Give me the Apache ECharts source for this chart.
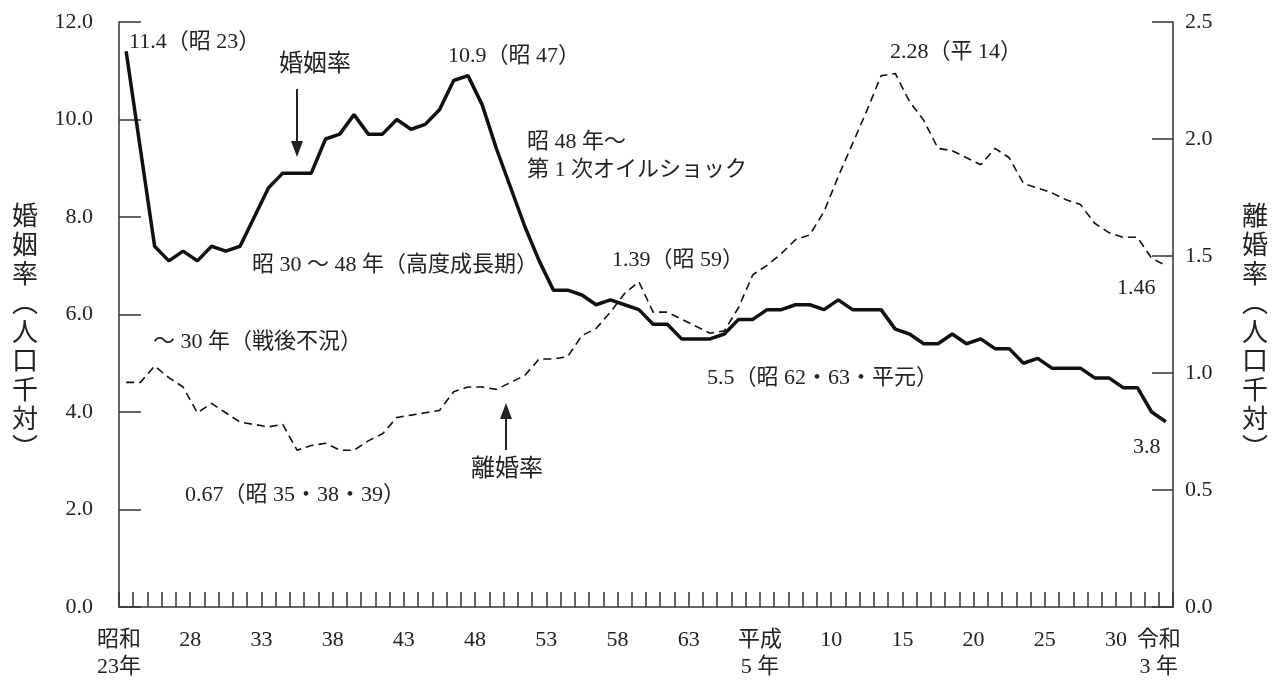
<!DOCTYPE html>
<html>
<head>
<meta charset="utf-8">
<script src="https://cdn.jsdelivr.net/npm/echarts@6/dist/echarts.min.js"></script>
<style>
  html, body { margin: 0; padding: 0; background: #fff; }
  #chart { width: 1277px; height: 687px; }
</style>
</head>
<body>
<div id="chart"></div>
<script>
// 年次（昭和23年〜令和3年）
const years = [
  1948, 1949, 1950, 1951, 1952, 1953, 1954, 1955, 1956, 1957,
  1958, 1959, 1960, 1961, 1962, 1963, 1964, 1965, 1966, 1967,
  1968, 1969, 1970, 1971, 1972, 1973, 1974, 1975, 1976, 1977,
  1978, 1979, 1980, 1981, 1982, 1983, 1984, 1985, 1986, 1987,
  1988, 1989, 1990, 1991, 1992, 1993, 1994, 1995, 1996, 1997,
  1998, 1999, 2000, 2001, 2002, 2003, 2004, 2005, 2006, 2007,
  2008, 2009, 2010, 2011, 2012, 2013, 2014, 2015, 2016, 2017,
  2018, 2019, 2020, 2021
];

// 婚姻率（人口千対）
const marriageRate = [
  11.4, 9.4, 7.4, 7.1, 7.3, 7.1, 7.4, 7.3, 7.4, 8.0,
  8.6, 8.9, 8.9, 8.9, 9.6, 9.7, 10.1, 9.7, 9.7, 10.0,
  9.8, 9.9, 10.2, 10.8, 10.9, 10.3, 9.4, 8.6, 7.8, 7.1,
  6.5, 6.5, 6.4, 6.2, 6.3, 6.2, 6.1, 5.8, 5.8, 5.5,
  5.5, 5.5, 5.6, 5.9, 5.9, 6.1, 6.1, 6.2, 6.2, 6.1,
  6.3, 6.1, 6.1, 6.1, 5.7, 5.6, 5.4, 5.4, 5.6, 5.4,
  5.5, 5.3, 5.3, 5.0, 5.1, 4.9, 4.9, 4.9, 4.7, 4.7,
  4.5, 4.5, 4.0, 3.8
];

// 離婚率（人口千対）
const divorceRate = [
  0.96, 0.96, 1.03, 0.98, 0.94, 0.83, 0.87, 0.83, 0.79, 0.78,
  0.77, 0.78, 0.67, 0.69, 0.70, 0.67, 0.67, 0.71, 0.74, 0.81,
  0.82, 0.83, 0.84, 0.92, 0.94, 0.94, 0.93, 0.96, 0.99, 1.06,
  1.06, 1.07, 1.16, 1.19, 1.26, 1.34, 1.39, 1.26, 1.26, 1.23,
  1.20, 1.17, 1.18, 1.28, 1.42, 1.46, 1.51, 1.57, 1.59, 1.69,
  1.84, 1.98, 2.12, 2.27, 2.28, 2.16, 2.08, 1.96, 1.95, 1.92,
  1.89, 1.96, 1.92, 1.81, 1.79, 1.77, 1.74, 1.72, 1.64, 1.60,
  1.58, 1.58, 1.49, 1.46
];

// 目盛ラベル（年の区切り位置）
const tickLabels = [
  [0, "昭和\n23年"], [5, "28"], [10, "33"], [15, "38"], [20, "43"],
  [25, "48"], [30, "53"], [35, "58"], [40, "63"], [45, "平成\n5 年"],
  [50, "10"], [55, "15"], [60, "20"], [65, "25"], [70, "30"], [73, "令和\n3 年"]
];

// 注記
const notes = [
  { text: "11.4（昭 23）", x: 129, y: 42 },
  { text: "婚姻率", x: 279, y: 65, size: 24 },
  { text: "10.9（昭 47）", x: 448, y: 56 },
  { text: "昭 48 年～", x: 527, y: 142 },
  { text: "第 1 次オイルショック", x: 527, y: 170 },
  { text: "2.28（平 14）", x: 890, y: 52 },
  { text: "1.46", x: 1117, y: 288 },
  { text: "昭 30 ～ 48 年（高度成長期）", x: 252, y: 265 },
  { text: "～ 30 年（戦後不況）", x: 153, y: 342 },
  { text: "1.39（昭 59）", x: 612, y: 260 },
  { text: "5.5（昭 62・63・平元）", x: 707, y: 378 },
  { text: "離婚率", x: 471, y: 470, size: 24 },
  { text: "0.67（昭 35・38・39）", x: 185, y: 495 },
  { text: "3.8", x: 1133, y: 447 },
];

const FONT = "'Liberation Serif', 'Noto Sans CJK JP', serif";
const INK = "#222";

const chart = echarts.init(document.getElementById("chart"));

const boundaryKeys = [];
for (let i = 0; i <= years.length; i++) boundaryKeys.push(String(i));
const labelMap = {};
tickLabels.forEach(([i, t]) => (labelMap[i] = t));

const arrow = (x, y1, y2) => {
  const dir = y2 > y1 ? 1 : -1;
  return [
    {
      type: "line",
      shape: { x1: x, y1: y1, x2: x, y2: y2 - dir * 10 },
      style: { stroke: INK, lineWidth: 2 },
    },
    {
      type: "polygon",
      shape: {
        points: [
          [x - 6, y2 - dir * 16],
          [x + 6, y2 - dir * 16],
          [x, y2],
        ],
      },
      style: { fill: INK },
    },
  ];
};

const graphics = [];
notes.forEach((n) => {
  graphics.push({
    type: "text",
    x: n.x,
    y: n.y,
    style: {
      text: n.text,
      fontSize: n.size || 22,
      fontFamily: FONT,
      fill: INK,
      verticalAlign: "middle",
    },
  });
});
graphics.push(...arrow(297, 89, 157));
graphics.push(...arrow(506, 450, 403));

// 縦書きの軸名
const vName = (x, chars) => ({
  type: "text",
  x: x,
  y: 331,
  style: {
    text: chars.split("").join("\n"),
    fontSize: 26,
    lineHeight: 29,
    fontFamily: "'Noto Sans CJK JP', sans-serif",
    fill: INK,
    align: "center",
    verticalAlign: "middle",
  },
});
graphics.push(vName(25, "婚姻率︵人口千対︶"));
graphics.push(vName(1255, "離婚率︵人口千対︶"));

const option = {
  animation: false,
  backgroundColor: "#fff",
  grid: { left: 119, right: 104, top: 22, bottom: 80 },
  xAxis: [
    {
      type: "category",
      data: years,
      boundaryGap: true,
      axisLine: { show: true, lineStyle: { color: "#333", width: 1.5 } },
      axisTick: {
        show: true,
        inside: true,
        length: 15,
        interval: 0,
        lineStyle: { color: "#333", width: 1.5 },
      },
      axisLabel: { show: true, interval: 0, formatter: () => "" },
      splitLine: { show: false },
    },
    {
      type: "category",
      data: boundaryKeys,
      boundaryGap: false,
      position: "bottom",
      axisLine: { show: false },
      axisTick: { show: false },
      axisLabel: {
        interval: 0,
        margin: 20,
        fontSize: 22,
        lineHeight: 27,
        fontFamily: FONT,
        color: INK,
        formatter: (v, idx) => labelMap[idx] || "",
      },
      splitLine: { show: false },
    },
  ],
  yAxis: [
    {
      type: "value",
      min: 0,
      max: 12,
      interval: 2,
      position: "left",
      axisLine: { show: true, lineStyle: { color: "#333", width: 1.5 } },
      axisTick: {
        show: true,
        inside: true,
        length: 22,
        lineStyle: { color: "#333", width: 1.5 },
      },
      axisLabel: {
        margin: 26,
        fontSize: 22,
        fontFamily: FONT,
        color: INK,
        formatter: (v) => v.toFixed(1),
      },
      splitLine: { show: false },
    },
    {
      type: "value",
      min: 0,
      max: 2.5,
      interval: 0.5,
      position: "right",
      axisLine: { show: true, lineStyle: { color: "#333", width: 1.5 } },
      axisTick: {
        show: true,
        inside: true,
        length: 21,
        lineStyle: { color: "#333", width: 1.5 },
      },
      axisLabel: {
        margin: 12,
        fontSize: 22,
        fontFamily: FONT,
        color: INK,
        formatter: (v) => v.toFixed(1),
      },
      splitLine: { show: false },
    },
  ],
  series: [
    {
      name: "婚姻率",
      type: "line",
      data: marriageRate,
      xAxisIndex: 0,
      yAxisIndex: 0,
      symbol: "none",
      lineStyle: { color: "#111", width: 3.5 },
    },
    {
      name: "離婚率",
      type: "line",
      data: divorceRate,
      xAxisIndex: 0,
      yAxisIndex: 1,
      symbol: "none",
      lineStyle: { color: "#111", width: 1.6, type: [8, 5] },
    },
  ],
  graphic: graphics,
};

chart.setOption(option);
</script>
</body>
</html>
